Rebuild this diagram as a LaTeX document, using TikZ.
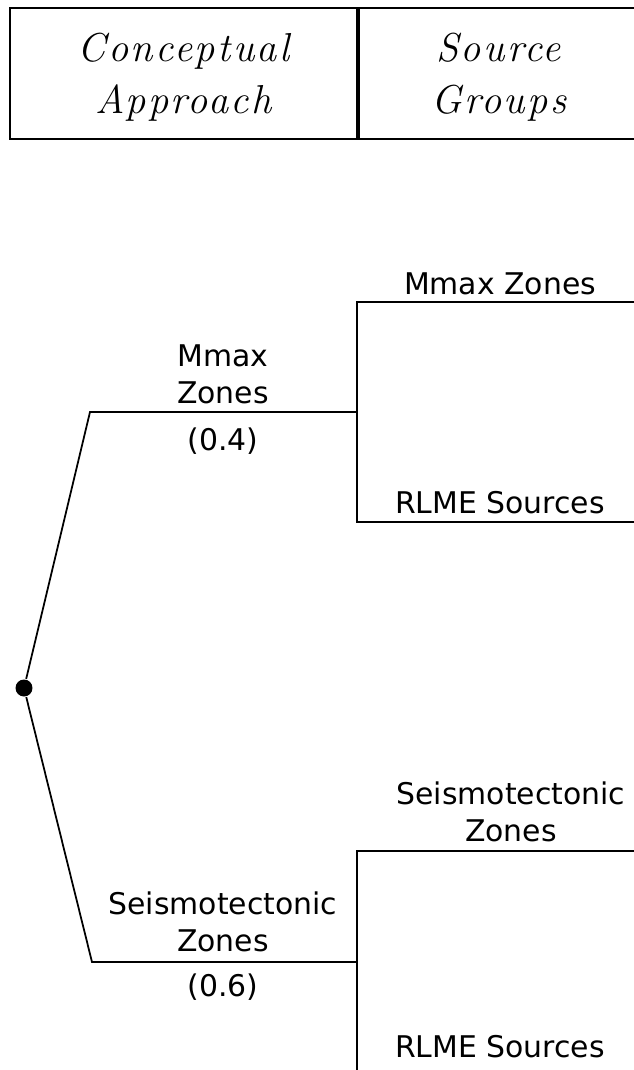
\documentclass[tikz,border=0pt]{standalone}
\usepackage{fontspec}
\setmainfont{DejaVu Sans}
\newfontfamily\hdrfont{Latin Modern Roman}[LetterSpace=6]
\usetikzlibrary{positioning}

\begin{document}
\begin{tikzpicture}[x=0.02cm, y=-0.02cm, line width=1pt,
cellnode/.style={rectangle, draw, line width=1pt, inner sep=0pt, text depth=0pt, minimum height=2.62cm, align=center, font=\fontsize{23}{29.5}\selectfont\hdrfont\itshape},
lbl/.style={align=center, inner sep=0pt, font=\fontsize{17}{21}\selectfont},
rootnode/.style={circle, fill=black, inner sep=0pt, minimum size=0.34cm},
]
\useasboundingbox (0,0) rectangle (634,1070);

%Header
\node[cellnode, minimum width=6.94cm] (approach) at (183.5,73.5) {Conceptual\\Approach};
\node[cellnode, minimum width=5.6cm, right=0pt of approach] (groups) {Source\\Groups};

%Nodes
\node[rootnode] (root) at (24,688) {};
\coordinate (mmaxbend) at (90,412);
\coordinate (mmaxjoin) at (357,412);
\coordinate (mmaxtop) at (357,302);
\coordinate (mmaxbot) at (357,522);
\coordinate (mmaxtopend) at (634,302);
\coordinate (mmaxbotend) at (634,522);
\coordinate (seisbend) at (92,962);
\coordinate (seisjoin) at (357,962);
\coordinate (seistop) at (357,851);
\coordinate (seisbot) at (357,1072);
\coordinate (seistopend) at (634,851);

\node[lbl] (mmaxlbl) at (223,374) {Mmax\\Zones};
\node[lbl] (mmaxw) at (223,441) {(0.4)};
\node[lbl] (mmaxsrc) at (500,284) {Mmax Zones};
\node[lbl] (mmaxrlme) at (500,503) {RLME Sources};
\node[lbl] (seisro) at (511,812) {Seismotectonic\\Zones};
\node[lbl] (seislbl) at (223,922) {Seismotectonic\\Zones};
\node[lbl] (seisw) at (223,987) {(0.6)};
\node[lbl] (seisrlme) at (500,1047) {RLME Sources};

%Lines
\draw (root) -- (mmaxbend) -- (mmaxjoin);
\draw (mmaxtopend) -- (mmaxtop) -- (mmaxbot) -- (mmaxbotend);
\draw (root) -- (seisbend) -- (seisjoin);
\draw (seistopend) -- (seistop) -- (seisbot);
\end{tikzpicture}
\end{document}
